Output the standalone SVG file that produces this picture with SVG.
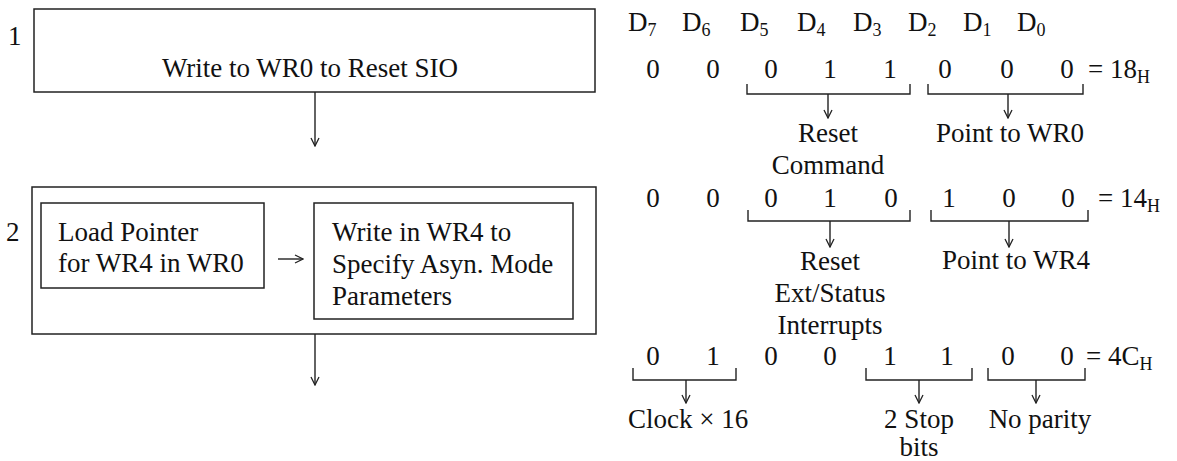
<svg xmlns="http://www.w3.org/2000/svg" width="1177" height="461" viewBox="0 0 1177 461">
<defs>
<style>
text{font-family:"Liberation Serif","Times New Roman",serif;font-size:27px;fill:#111}
.box{fill:none;stroke:#222;stroke-width:1.5}
.ln{fill:none;stroke:#222;stroke-width:1.4}
.c{text-anchor:middle}
.sub{font-size:18px}
</style>
<marker id="ah" viewBox="-9 -5 10 10" refX="0" refY="0" markerWidth="10" markerHeight="10" markerUnits="userSpaceOnUse" orient="auto">
<path d="M-8,-4 L0,0 L-8,4" fill="none" stroke="#222" stroke-width="1.3"/>
</marker>
</defs>
<rect width="1177" height="461" fill="#fff"/>

<g id="step1">
<text x="8" y="45">1</text>
<rect class="box" x="34" y="9" width="561" height="83"/>
<text class="c" x="310" y="77">Write to WR0 to Reset SIO</text>
</g>

<g id="step2">
<text x="6" y="241">2</text>
<rect class="box" x="32" y="187" width="564" height="147"/>
</g>
<g id="load-pointer">
<rect class="box" x="41" y="203" width="223" height="85"/>
<text x="58" y="241">Load Pointer</text>
<text x="58" y="272">for WR4 in WR0</text>
</g>
<g id="write-wr4">
<rect class="box" x="314" y="203" width="259" height="116"/>
<text x="332" y="241">Write in WR4 to</text>
<text x="332" y="273">Specify Asyn. Mode</text>
<text x="332" y="305">Parameters</text>
</g>

<g id="connectors">
<line class="ln" x1="315" y1="92" x2="315" y2="146" marker-end="url(#ah)"/>
<line class="ln" x1="315" y1="334" x2="315" y2="385" marker-end="url(#ah)"/>
<line class="ln" x1="278" y1="259" x2="303" y2="259" marker-end="url(#ah)"/>
</g>

<g id="bit-header">
<text x="628" y="31">D<tspan class="sub" dy="5">7</tspan></text>
<text x="682" y="31">D<tspan class="sub" dy="5">6</tspan></text>
<text x="740" y="31">D<tspan class="sub" dy="5">5</tspan></text>
<text x="797" y="31">D<tspan class="sub" dy="5">4</tspan></text>
<text x="853" y="31">D<tspan class="sub" dy="5">3</tspan></text>
<text x="908" y="31">D<tspan class="sub" dy="5">2</tspan></text>
<text x="963" y="31">D<tspan class="sub" dy="5">1</tspan></text>
<text x="1017" y="31">D<tspan class="sub" dy="5">0</tspan></text>
</g>

<g id="wr0-reset">
<text class="c" x="653" y="78">0</text>
<text class="c" x="713" y="78">0</text>
<text class="c" x="771" y="78">0</text>
<text class="c" x="830" y="78">1</text>
<text class="c" x="890" y="78">1</text>
<text class="c" x="945" y="78">0</text>
<text class="c" x="1007" y="78">0</text>
<text class="c" x="1067" y="78">0</text>
<text x="1088" y="78">= 18<tspan class="sub" dy="5">H</tspan></text>
<path class="ln" d="M747,84 V94 H910 V84"/>
<path class="ln" d="M928,84 V94 H1083 V84"/>
<line class="ln" x1="828" y1="94" x2="828" y2="118" marker-end="url(#ah)"/>
<line class="ln" x1="1008" y1="94" x2="1008" y2="118" marker-end="url(#ah)"/>
<text class="c" x="828" y="142">Reset</text>
<text class="c" x="828" y="174">Command</text>
<text class="c" x="1010" y="142">Point to WR0</text>
</g>

<g id="wr0-ext">
<text class="c" x="653" y="207">0</text>
<text class="c" x="713" y="207">0</text>
<text class="c" x="771" y="207">0</text>
<text class="c" x="830" y="207">1</text>
<text class="c" x="891" y="207">0</text>
<text class="c" x="949" y="207">1</text>
<text class="c" x="1009" y="207">0</text>
<text class="c" x="1068" y="207">0</text>
<text x="1098" y="207">= 14<tspan class="sub" dy="5">H</tspan></text>
<path class="ln" d="M748,210 V221 H910 V210"/>
<path class="ln" d="M931,210 V221 H1088 V210"/>
<line class="ln" x1="830" y1="221" x2="830" y2="247" marker-end="url(#ah)"/>
<line class="ln" x1="1009" y1="221" x2="1009" y2="247" marker-end="url(#ah)"/>
<text class="c" x="830" y="270">Reset</text>
<text class="c" x="830" y="302">Ext/Status</text>
<text class="c" x="830" y="334">Interrupts</text>
<text class="c" x="1016" y="269">Point to WR4</text>
</g>

<g id="wr4-mode">
<text class="c" x="653" y="365">0</text>
<text class="c" x="713" y="365">1</text>
<text class="c" x="771" y="365">0</text>
<text class="c" x="830" y="365">0</text>
<text class="c" x="890" y="365">1</text>
<text class="c" x="947" y="365">1</text>
<text class="c" x="1008" y="365">0</text>
<text class="c" x="1067" y="365">0</text>
<text x="1086" y="365">= 4C<tspan class="sub" dy="5">H</tspan></text>
<path class="ln" d="M633,368 V380 H736 V368"/>
<path class="ln" d="M866,368 V380 H972 V368"/>
<path class="ln" d="M988,368 V380 H1085 V368"/>
<line class="ln" x1="686" y1="380" x2="686" y2="403" marker-end="url(#ah)"/>
<line class="ln" x1="919" y1="380" x2="919" y2="403" marker-end="url(#ah)"/>
<line class="ln" x1="1036" y1="380" x2="1036" y2="403" marker-end="url(#ah)"/>
<text x="628" y="428">Clock × 16</text>
<text class="c" x="919" y="428">2 Stop</text>
<text class="c" x="919" y="456">bits</text>
<text class="c" x="1040" y="428">No parity</text>
</g>
</svg>
